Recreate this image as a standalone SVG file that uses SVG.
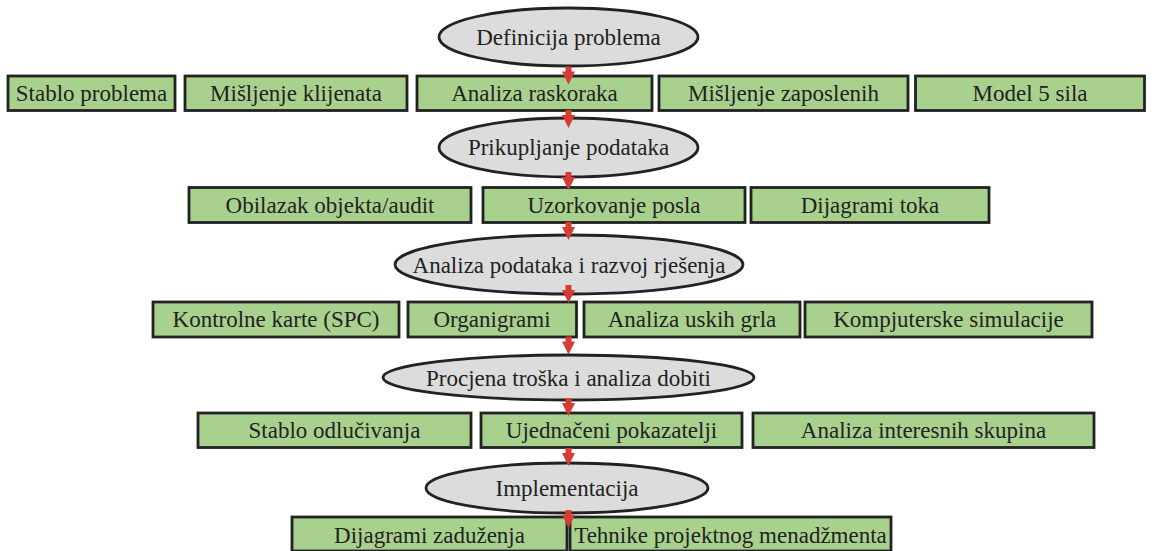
<svg xmlns="http://www.w3.org/2000/svg" width="1152" height="551" viewBox="0 0 1152 551">
<defs>
<style>
.box{fill:#a9d18e;stroke:#222;stroke-width:2.8}
.ell{fill:#dcdcdc;stroke:#222;stroke-width:2.8}
.t{font-family:"Liberation Serif","Times New Roman",serif;font-size:23px;fill:#222;text-anchor:middle}
.arr{fill:#d63b35}
</style>
<path id="a" class="arr" d="M-3,0 h6 v5 h3.5 l-6.5,13 l-6.5,-13 h3.5 z"/>
</defs>
<rect width="1152" height="551" fill="#fff"/>
<g id="n_definicija"><ellipse class="ell" cx="568.5" cy="37" rx="129.5" ry="29"/><text class="t" x="568.5" y="45">Definicija problema</text></g>
<g id="n_stablo_problema"><rect class="box" x="8" y="76" width="167" height="34.5"/><text class="t" x="91.5" y="101">Stablo problema</text></g>
<g id="n_misljenje_klijenata"><rect class="box" x="185" y="76" width="222" height="34.5"/><text class="t" x="296" y="101">Mišljenje klijenata</text></g>
<g id="n_analiza_raskoraka"><rect class="box" x="417" y="76" width="235" height="34.5"/><text class="t" x="534.5" y="101">Analiza raskoraka</text></g>
<g id="n_misljenje_zaposlenih"><rect class="box" x="659" y="76" width="249" height="34.5"/><text class="t" x="783.5" y="101">Mišljenje zaposlenih</text></g>
<g id="n_model5"><rect class="box" x="915.5" y="76" width="229" height="34.5"/><text class="t" x="1030" y="101">Model 5 sila</text></g>
<g id="n_prikupljanje"><ellipse class="ell" cx="568.5" cy="147.5" rx="129.5" ry="29.5"/><text class="t" x="568.5" y="155">Prikupljanje podataka</text></g>
<g id="n_obilazak"><rect class="box" x="189" y="187.5" width="282" height="35"/><text class="t" x="330" y="212.5">Obilazak objekta/audit</text></g>
<g id="n_uzorkovanje"><rect class="box" x="483" y="187.5" width="262" height="35"/><text class="t" x="614" y="212.5">Uzorkovanje posla</text></g>
<g id="n_dijagrami_toka"><rect class="box" x="751" y="187.5" width="238" height="35"/><text class="t" x="870" y="212.5">Dijagrami toka</text></g>
<g id="n_analiza_podataka"><ellipse class="ell" cx="569" cy="264.5" rx="174" ry="29.5"/><text class="t" x="569" y="272.5">Analiza podataka i razvoj rješenja</text></g>
<g id="n_kontrolne"><rect class="box" x="153" y="302" width="246" height="35"/><text class="t" x="276" y="327">Kontrolne karte (SPC)</text></g>
<g id="n_organigrami"><rect class="box" x="408" y="302" width="168.5" height="35"/><text class="t" x="492" y="327">Organigrami</text></g>
<g id="n_uskih_grla"><rect class="box" x="584" y="302" width="216" height="35"/><text class="t" x="692" y="327">Analiza uskih grla</text></g>
<g id="n_kompjuterske"><rect class="box" x="805" y="302" width="287" height="35"/><text class="t" x="948.5" y="327">Kompjuterske simulacije</text></g>
<g id="n_procjena"><ellipse class="ell" cx="568.5" cy="377.5" rx="185.5" ry="22.5"/><text class="t" x="568.5" y="385.5">Procjena troška i analiza dobiti</text></g>
<g id="n_stablo_odlucivanja"><rect class="box" x="198" y="413" width="273" height="34.5"/><text class="t" x="334.5" y="438">Stablo odlučivanja</text></g>
<g id="n_ujednaceni"><rect class="box" x="481" y="413" width="261" height="34.5"/><text class="t" x="611.5" y="438">Ujednačeni pokazatelji</text></g>
<g id="n_interesnih"><rect class="box" x="753" y="413" width="341" height="34.5"/><text class="t" x="923.5" y="438">Analiza interesnih skupina</text></g>
<g id="n_implementacija"><ellipse class="ell" cx="567" cy="488" rx="141" ry="25"/><text class="t" x="567" y="496">Implementacija</text></g>
<g id="n_zaduzenja"><rect class="box" x="292" y="517" width="275" height="34"/><text class="t" x="429.5" y="542.5">Dijagrami zaduženja</text></g>
<g id="n_tehnike"><rect class="box" x="570" y="517" width="321" height="34"/><text class="t" x="730.5" y="542.5">Tehnike projektnog menadžmenta</text></g>
<g id="connectors">
<use href="#a" x="568.5" y="66.5"/>
<use href="#a" x="568.5" y="110"/>
<use href="#a" x="568.5" y="172"/>
<use href="#a" x="568.5" y="222"/>
<use href="#a" x="568.5" y="285"/>
<use href="#a" x="568.5" y="336.5"/>
<use href="#a" x="568.5" y="398"/>
<use href="#a" x="568.5" y="448"/>
<use href="#a" x="568.5" y="510"/>
</g>
</svg>
